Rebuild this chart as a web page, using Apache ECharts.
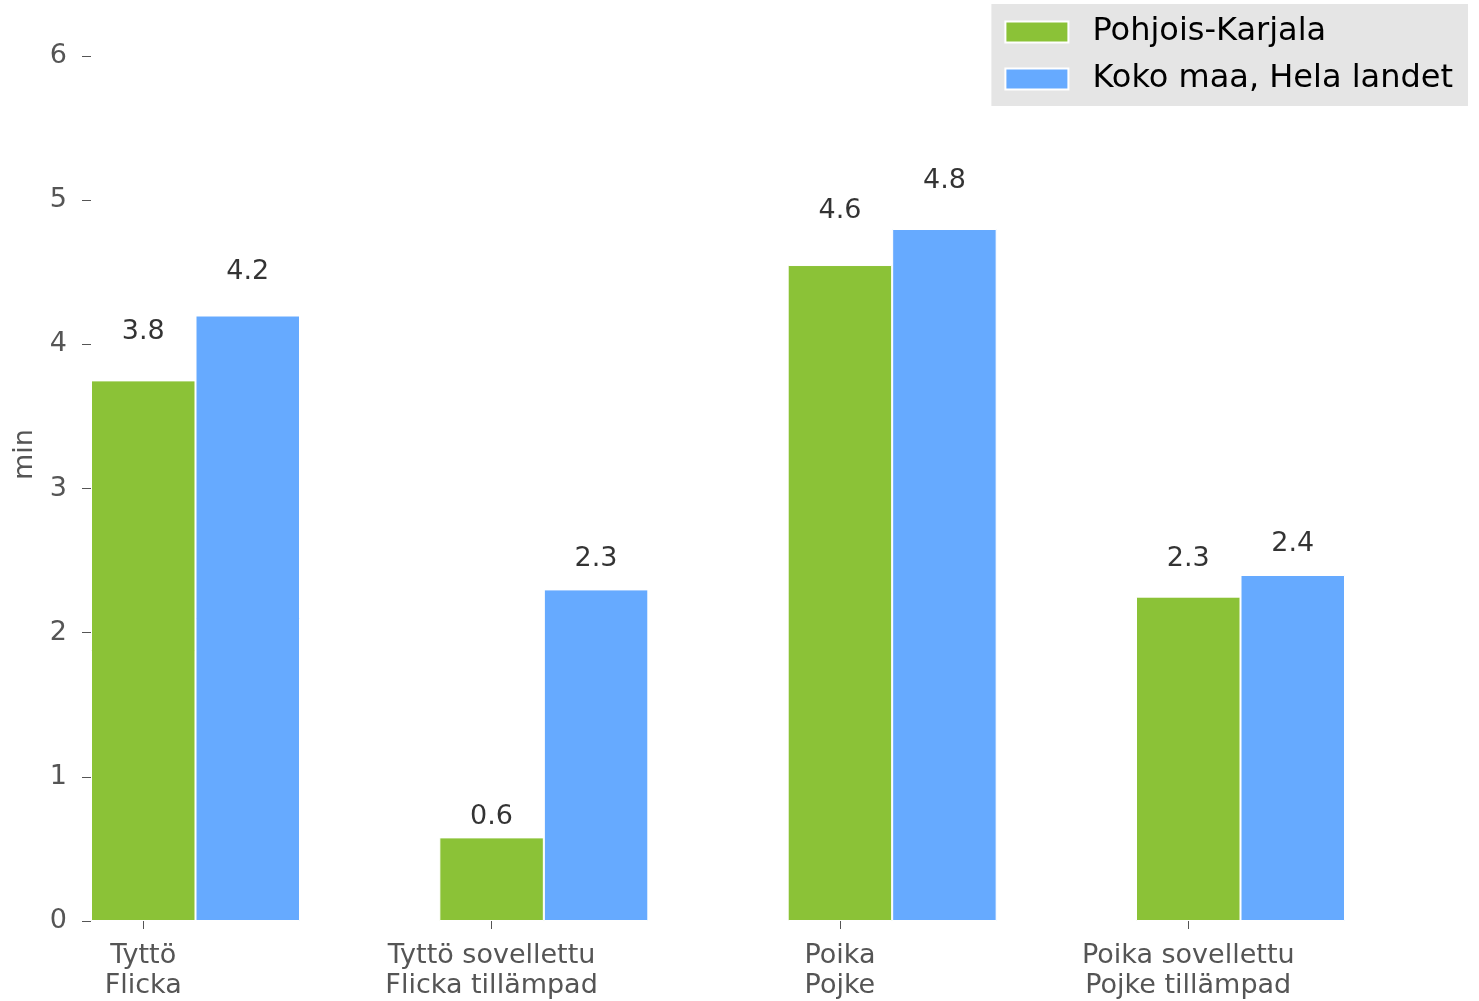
<!DOCTYPE html>
<html><head><meta charset="utf-8">
<script src="https://cdn.jsdelivr.net/npm/echarts@6/dist/echarts.min.js"></script>
<style>html,body{margin:0;padding:0;background:#fff}#c{width:1479px;height:1001px}</style>
</head><body><div id="c"></div>
<script>
// ---- data ----
const categories = ['Tyttö\nFlicka', 'Tyttö sovellettu\nFlicka tillämpad', 'Poika\nPojke', 'Poika sovellettu\nPojke tillämpad'];
const seriesNames = ['Pohjois-Karjala', 'Koko maa, Hela landet'];
const pohjoisKarjala = [3.75, 0.58, 4.55, 2.25];
const kokoMaa = [4.2, 2.3, 4.8, 2.4];
const yTicks = [0, 1, 2, 3, 4, 5, 6];

// ---- layout / style ----
const FONT = 'DejaVu Sans';
const GREEN = '#8BC237';
const BLUE = '#66AAFF';
const BAR_W = 0.3;          // bar width in category units
const LABEL_LIFT = 1.05;     // labels placed at 1.05 x rounded value
const round1 = v => Math.round(v * 10) / 10;
const catIdx = categories.map((c, i) => i);

function barData(vals, shift) { return vals.map((v, i) => [i + shift, v]); }
function labelData(vals, shift) { return vals.map((v, i) => [i + shift, round1(v) * LABEL_LIFT, round1(v)]); }

function labelSeries(name, vals, shift) {
  return {
    name: name, type: 'scatter', data: labelData(vals, shift), symbolSize: 0, silent: true, z: 5,
    label: { show: true, position: 'top', distance: 0, color: '#000000', textBorderWidth: 0,
      fontFamily: FONT, fontSize: 27, formatter: p => p.value[2].toFixed(1) }
  };
}

const chart = echarts.init(document.getElementById('c'), null, { renderer: 'canvas' });
chart.setOption({
  animation: false,
  backgroundColor: '#fff',
  textStyle: { fontFamily: FONT },
  grid: { left: 91, right: 134, top: 56, bottom: 77, containLabel: false },
  legend: {
    orient: 'vertical', right: 11, top: 4,
    backgroundColor: '#E5E5E5', padding: [10, 15, 9, 13],
    itemWidth: 63, itemHeight: 21, itemGap: 11, icon: 'rect',
    textStyle: { fontFamily: FONT, fontSize: 32, color: '#000', lineHeight: 36, padding: [0, 0, 0, 19] },
    data: seriesNames
  },
  xAxis: {
    type: 'value', min: -BAR_W / 2, max: categories.length - 1 + BAR_W * 1.5,
    axisLine: { show: false, onZero: false }, splitLine: { show: false },
    axisTick: { show: true, customValues: catIdx, length: 8, lineStyle: { color: '#555' } },
    axisLabel: { customValues: catIdx, formatter: v => categories[Math.round(v)],
      fontFamily: FONT, fontSize: 27, color: '#555', lineHeight: 30, margin: 20 }
  },
  yAxis: {
    type: 'value', min: yTicks[0], max: yTicks[yTicks.length - 1], interval: 1,
    name: 'min', nameLocation: 'middle', nameGap: 53, nameRotate: 90,
    nameTextStyle: { fontFamily: FONT, fontSize: 27, color: '#555', padding: [0, 0, 0, 68] },
    axisLine: { show: false, onZero: false }, splitLine: { show: false },
    axisTick: { show: true, length: 9, lineStyle: { color: '#555' } },
    axisLabel: { customValues: yTicks, fontFamily: FONT, fontSize: 27, color: '#555', margin: 24 }
  },
  series: [
    { name: seriesNames[0], type: 'bar', data: barData(pohjoisKarjala, 0), barWidth: '100%', barGap: '-100%',
      itemStyle: { color: GREEN, borderColor: '#fff', borderWidth: 1 } },
    { name: seriesNames[1], type: 'bar', data: barData(kokoMaa, BAR_W), barWidth: '100%', barGap: '-100%',
      itemStyle: { color: BLUE, borderColor: '#fff', borderWidth: 1 } },
    labelSeries('lbl0', pohjoisKarjala, 0),
    labelSeries('lbl1', kokoMaa, BAR_W)
  ]
});
</script></body></html>
